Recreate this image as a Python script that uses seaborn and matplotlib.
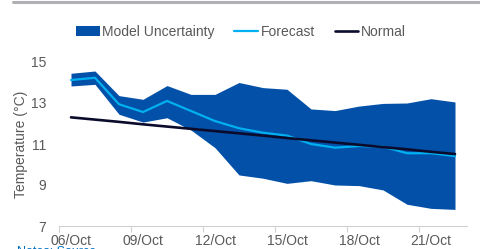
import numpy as np
import pandas as pd
import matplotlib
matplotlib.use("Agg")
import matplotlib.pyplot as plt
from matplotlib.patches import Patch
from matplotlib.lines import Line2D
import seaborn as sns

# daily labels 06/Oct .. 22/Oct
dates = ["06/Oct", "07/Oct", "08/Oct", "09/Oct", "10/Oct", "11/Oct", "12/Oct", "13/Oct", "14/Oct",
         "15/Oct", "16/Oct", "17/Oct", "18/Oct", "19/Oct", "20/Oct", "21/Oct", "22/Oct"]
forecast = [14.12, 14.23, 12.94, 12.56, 13.10, 12.61, 12.12, 11.77, 11.55,
            11.41, 11.00, 10.82, 10.90, 10.87, 10.55, 10.55, 10.41]
normal = [12.30, 12.19, 12.08, 11.96, 11.85, 11.74, 11.63, 11.52, 11.41,
          11.29, 11.18, 11.07, 10.96, 10.85, 10.74, 10.62, 10.51]
upper = [14.45, 14.56, 13.36, 13.18, 13.85, 13.42, 13.42, 14.00, 13.75,
         13.67, 12.71, 12.63, 12.85, 12.98, 13.00, 13.21, 13.05]
lower = [13.83, 13.91, 12.45, 12.07, 12.28, 11.68, 10.82, 9.49, 9.33,
         9.08, 9.21, 9.00, 8.97, 8.76, 8.06, 7.86, 7.81]
label_every = 3

band_col = "#0350A8"
fc_col = "#00B0F0"
nm_col = "#0B0B2C"
grey = "#595959"

df = pd.DataFrame({"date": dates, "forecast": forecast, "normal": normal,
                   "upper": upper, "lower": lower})
df["pos"] = np.arange(len(df))

sns.set_style("white")
plt.rcParams["font.family"] = ["Liberation Sans", "DejaVu Sans"]

fig = plt.figure(figsize=(4.81, 2.49), dpi=100)
ax = fig.add_axes([59 / 481, 1 - 226 / 249, (467 - 59) / 481, (226 - 62) / 249])

ax.fill_between(df["pos"], df["lower"], df["upper"], color=band_col, linewidth=0)
sns.lineplot(data=df, x="pos", y="forecast", color=fc_col, linewidth=1.6, ax=ax)
sns.lineplot(data=df, x="pos", y="normal", color=nm_col, linewidth=1.9, ax=ax)

ax.set_xlim(-0.5, len(df) - 0.5)
ax.set_ylim(7, 15)
ax.set_yticks([7, 9, 11, 13, 15])
ax.set_xticks(df["pos"][::label_every])
ax.set_xticklabels(df["date"][::label_every])
ax.set_xticks(np.arange(-0.5, len(df) - 1, label_every), minor=True)
ax.tick_params(axis="x", which="major", length=0, pad=6, labelsize=10, labelcolor=grey)
ax.tick_params(axis="x", which="minor", length=4, width=0.8, color="#d0d0d0", direction="out", bottom=True)
ax.tick_params(axis="y", length=0, pad=9, labelsize=10, labelcolor=grey)
ax.set_xlabel("")
ax.set_ylabel("Temperature (°C)", fontsize=10, color=grey, labelpad=2)
for s in ["top", "right", "left"]:
    ax.spines[s].set_visible(False)
ax.spines["bottom"].set_color("#d0d0d0")
ax.spines["bottom"].set_linewidth(0.8)

handles = [Patch(facecolor=band_col, edgecolor="none"),
           Line2D([], [], color=fc_col, linewidth=1.6),
           Line2D([], [], color=nm_col, linewidth=1.9)]
fig.legend(handles, ["Model Uncertainty", "Forecast", "Normal"], loc="center",
           bbox_to_anchor=(241 / 481, 1 - 32 / 249), ncol=3, frameon=False,
           fontsize=10, handlelength=1.7, handletextpad=0.2, columnspacing=1.4,
           borderpad=0, labelcolor=grey)

# grey rule at the top and the clipped source note at the bottom
fig.add_artist(Line2D([13 / 481, 1], [1 - 2 / 249, 1 - 2 / 249], color="#b0b0b5", linewidth=2.2))
fig.text(17 / 481, 1 - 246 / 249, "Notes: Source", color="#0070C0", fontsize=9, va="top")

fig.savefig("out.png", dpi=100)
